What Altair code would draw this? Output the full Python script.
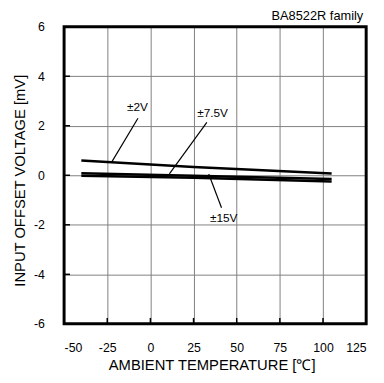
import altair as alt
import pandas as pd

temps = [-40, 25, 105]
v2 = [0.60, 0.33, 0.07]
v75 = [0.08, -0.02, -0.15]
v15 = [-0.02, -0.10, -0.25]
series_names = ["±2V", "±7.5V", "±15V"]

x_ticks = [-50, -25, 0, 25, 50, 75, 100, 125]
y_ticks = [-6, -4, -2, 0, 2, 4, 6]

# annotation labels and leader lines (data coordinates)
lab_text = ["±2V", "±7.5V", "±15V"]
lab_x = [-7.5, 36, 42.5]
lab_y = [2.75, 2.5, -1.72]
lead_x1 = [-7.2, 32.7, 33.8]
lead_y1 = [2.3, 2.14, 0.05]
lead_x2 = [-22.6, 11, 41.2]
lead_y2 = [0.51, 0.06, -1.31]

rows = []
for name, vals in zip(series_names, [v2, v75, v15]):
    for t, v in zip(temps, vals):
        rows.append({"series": name, "t": t, "v": v})
df = pd.DataFrame(rows)

FONT = "Liberation Sans"
xs = alt.Scale(domain=[-50, 125], nice=False)
ys = alt.Scale(domain=[-6, 6], nice=False)

base_x = alt.X("t:Q", scale=xs, axis=alt.Axis(
    values=x_ticks, title="AMBIENT TEMPERATURE [℃]", tickSize=0, labelPadding=18,
    labelExpr="toString(datum.value)",
    grid=True, gridColor="#808080", gridWidth=1, domain=False,
    labelFont=FONT, labelFontSize=12.5, labelColor="black",
    titleFont=FONT, titleFontSize=15, titleFontWeight="normal", titleColor="black", titlePadding=4,
    titleX=150))
base_y = alt.Y("v:Q", scale=ys, axis=alt.Axis(
    values=y_ticks, title="INPUT OFFSET VOLTAGE [mV]", tickSize=0, labelPadding=20,
    labelExpr="toString(datum.value)",
    grid=True, gridColor="#808080", gridWidth=1, domain=False,
    labelFont=FONT, labelFontSize=12.5, labelColor="black",
    titleFont=FONT, titleFontSize=15, titleFontWeight="normal", titleColor="black", titlePadding=6,
    titleY=156))

lines = alt.Chart(df).mark_line(color="black", strokeWidth=2.5).encode(
    x=base_x, y=base_y, detail="series:N")

ann = pd.DataFrame({"text": lab_text, "x": lab_x, "y": lab_y,
                    "x1": lead_x1, "y1": lead_y1, "x2": lead_x2, "y2": lead_y2})
leaders = alt.Chart(ann).mark_rule(color="black", strokeWidth=1.2).encode(
    x=alt.X("x1:Q", scale=xs), y=alt.Y("y1:Q", scale=ys),
    x2="x2:Q", y2="y2:Q")
labels = alt.Chart(ann).mark_text(font=FONT, fontSize=12, color="black").encode(
    x=alt.X("x:Q", scale=xs), y=alt.Y("y:Q", scale=ys), text="text:N")

yt = pd.DataFrame({"v": y_ticks})
xt = pd.DataFrame({"t": x_ticks})
yticks = alt.Chart(yt).mark_rule(color="black", strokeWidth=1.5).encode(
    x=alt.value(0), x2=alt.value(6), y=alt.Y("v:Q", scale=ys))
xticks = alt.Chart(xt).mark_rule(color="black", strokeWidth=1.5).encode(
    y=alt.value(302), y2=alt.value(296), x=alt.X("t:Q", scale=xs))

border = alt.Chart(pd.DataFrame({"b": [0]})).mark_rect(
    fill=None, stroke="black", strokeWidth=3).encode(
    x=alt.value(0), x2=alt.value(307), y=alt.value(0), y2=alt.value(302))

fam = alt.Chart(pd.DataFrame({"txt": ["BA8522R  family"]})).mark_text(
    font=FONT, fontSize=13, color="black", align="right", baseline="bottom").encode(
    x=alt.value(304), y=alt.value(-4), text="txt:N")

chart = alt.layer(lines, leaders, labels, yticks, xticks, border, fam).properties(
    width=307, height=302,
    autosize=alt.AutoSizeParams(type="none"),
    padding={"left": 57, "top": 16, "right": 10, "bottom": 50},
).configure_view(stroke=None)

chart.save("out.html", embed_options={"renderer": "svg", "actions": False})
